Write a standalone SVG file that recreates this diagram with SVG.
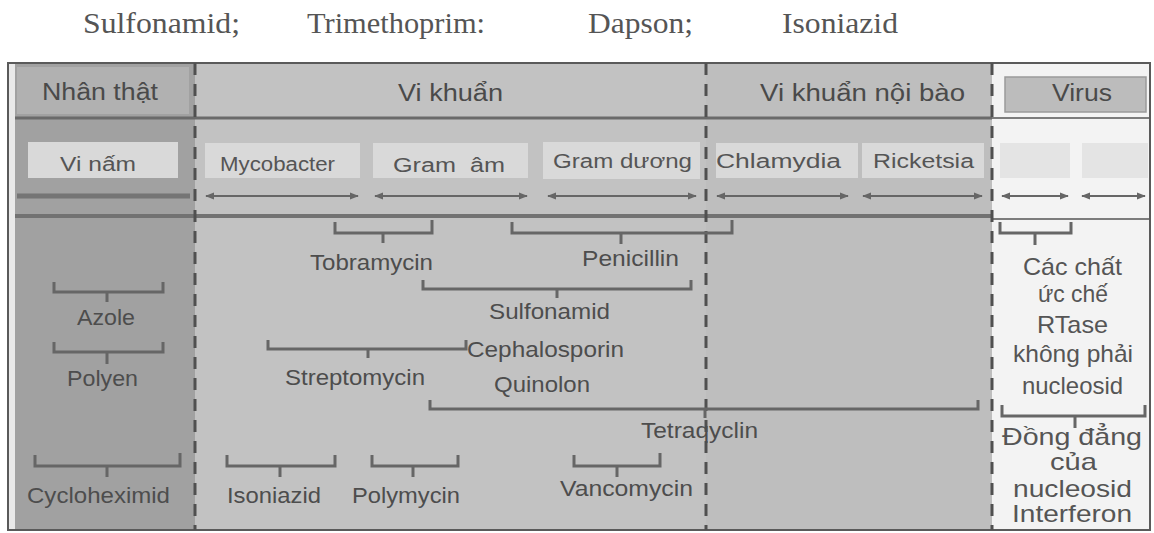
<svg xmlns="http://www.w3.org/2000/svg" width="1154" height="533" viewBox="0 0 1154 533">
<defs>
<marker id="ah" viewBox="0 0 10 10" refX="9" refY="5" markerWidth="9" markerHeight="9" markerUnits="userSpaceOnUse" orient="auto-start-reverse">
<path d="M0,1 L10,5 L0,9 Z" fill="#666"/>
</marker>
<style>
.serif{font-family:"Liberation Serif","Times New Roman",serif;font-size:29px;fill:#555;}
.hd{font-family:"Liberation Sans",Arial,sans-serif;font-size:23px;fill:#4a4a4a;}
.bx{font-family:"Liberation Sans",Arial,sans-serif;font-size:20px;fill:#555;}
.lb{font-family:"Liberation Sans",Arial,sans-serif;font-size:22px;fill:#4d4d4d;}
.vr{font-family:"Liberation Sans",Arial,sans-serif;font-size:24px;fill:#555;}
.box{fill:#d9d9d9;}
.vbox{fill:#e4e4e4;}
.br{fill:none;stroke:#666;stroke-width:3;}
.ar{stroke:#666;stroke-width:2;fill:none;marker-start:url(#ah);marker-end:url(#ah);}
.dash{stroke:#505050;stroke-width:3;stroke-dasharray:12 9;fill:none;}
</style>
</defs>
<rect width="1154" height="533" fill="#ffffff"/>

<g id="caption">
<text class="serif" x="83" y="33" textLength="157" lengthAdjust="spacingAndGlyphs">Sulfonamid;</text>
<text class="serif" x="307" y="33" textLength="178" lengthAdjust="spacingAndGlyphs">Trimethoprim:</text>
<text class="serif" x="588" y="33" textLength="105" lengthAdjust="spacingAndGlyphs">Dapson;</text>
<text class="serif" x="782" y="33" textLength="116" lengthAdjust="spacingAndGlyphs">Isoniazid</text>
</g>

<g id="backgrounds">
<rect x="8" y="63" width="1142" height="467" fill="#e9e9e9"/>
<rect x="15" y="64" width="180" height="465" fill="#a1a1a1"/>
<rect x="195" y="64" width="511" height="465" fill="#c2c2c2"/>
<rect x="706" y="64" width="286" height="465" fill="#bebebe"/>
<rect x="992" y="64" width="158" height="465" fill="#f3f3f3"/>
</g>

<g id="col-nhan-that">
<rect x="17" y="67" width="172" height="47" fill="#b1b1b1"/>
<text class="hd" x="42" y="100" textLength="116" lengthAdjust="spacingAndGlyphs">Nhân thật</text>
</g>
<g id="col-vi-khuan">
<text class="hd" x="398" y="101" textLength="105" lengthAdjust="spacingAndGlyphs">Vi khuẩn</text>
</g>
<g id="col-noi-bao">
<text class="hd" x="760" y="101" textLength="205" lengthAdjust="spacingAndGlyphs">Vi khuẩn nội bào</text>
</g>
<g id="col-virus">
<rect x="1005" y="77" width="141" height="35" fill="#bcbcbc" stroke="#9a9a9a" stroke-width="1.5"/>
<text class="hd" x="1052" y="101" textLength="60" lengthAdjust="spacingAndGlyphs">Virus</text>
</g>

<g id="grid">
<line x1="15" y1="118" x2="992" y2="118" stroke="#6a6a6a" stroke-width="3"/>
<line x1="992" y1="118" x2="1150" y2="118" stroke="#555" stroke-width="1.5"/>
<line x1="15" y1="216" x2="992" y2="216" stroke="#727272" stroke-width="4"/>
<line x1="992" y1="219" x2="1150" y2="219" stroke="#555" stroke-width="1.5"/>
<rect x="8" y="63" width="1142" height="467" fill="none" stroke="#5a5a5a" stroke-width="2"/>
<line class="dash" x1="195" y1="63" x2="195" y2="530"/>
<line class="dash" x1="706" y1="63" x2="706" y2="530"/>
<line class="dash" x1="992" y1="63" x2="992" y2="530"/>
</g>

<g id="vi-nam"><rect class="box" x="28" y="142" width="150" height="36"/><text class="bx" x="60" y="171" textLength="76" lengthAdjust="spacingAndGlyphs">Vi nấm</text></g>
<g id="mycobacter"><rect class="box" x="205" y="143" width="155" height="35"/><text class="bx" x="220" y="171" textLength="115" lengthAdjust="spacingAndGlyphs">Mycobacter</text></g>
<g id="gram-am"><rect class="box" x="373" y="143" width="155" height="35"/><text class="bx" x="393" y="172" textLength="112" lengthAdjust="spacingAndGlyphs" xml:space="preserve">Gram  âm</text></g>
<g id="gram-duong"><rect class="box" x="543" y="142" width="157" height="37"/><text class="bx" x="553" y="168" textLength="139" lengthAdjust="spacingAndGlyphs">Gram dương</text></g>
<g id="chlamydia"><rect class="box" x="716" y="143" width="142" height="35"/><text class="bx" x="716" y="168" textLength="125" lengthAdjust="spacingAndGlyphs">Chlamydia</text></g>
<g id="ricketsia"><rect class="box" x="862" y="143" width="122" height="35"/><text class="bx" x="873" y="168" textLength="101" lengthAdjust="spacingAndGlyphs">Ricketsia</text></g>
<g id="virus-a"><rect class="vbox" x="1000" y="143" width="70" height="35"/></g>
<g id="virus-b"><rect class="vbox" x="1082" y="143" width="66" height="35"/></g>

<g id="connectors">
<line x1="17" y1="196" x2="190" y2="196" stroke="#757575" stroke-width="5"/>
<line class="ar" x1="206" y1="196" x2="358" y2="196"/>
<line class="ar" x1="375" y1="196" x2="527" y2="196"/>
<line class="ar" x1="548" y1="196" x2="696" y2="196"/>
<line class="ar" x1="717" y1="196" x2="848" y2="196"/>
<line class="ar" x1="863" y1="196" x2="982" y2="196"/>
<line class="ar" x1="1002" y1="196" x2="1068" y2="196"/>
<line class="ar" x1="1082" y1="196" x2="1145" y2="196"/>

<path class="br" d="M335,222 V233 H432 V220 M383,233 V243"/>
<path class="br" d="M512,222 V233 H732 V220 M621,233 V244"/>
<path class="br" d="M423,280 V289 H691 V280 M557,289 V298"/>
<path class="br" d="M268,340 V349 H466 V340 M368,349 V358"/>
<path class="br" d="M430,400 V409 H978 V400 M705,409 V418"/>
<path class="br" d="M574,455 V466 H660 V453 M617,466 V477"/>
<path class="br" d="M372,455 V466 H458 V455 M413,466 V477"/>
<path class="br" d="M227,455 V466 H335 V455 M280,466 V477"/>
<path class="br" d="M35,455 V466 H180 V453 M107,466 V477"/>
<path class="br" d="M54,282 V292 H163 V282 M107,292 V302"/>
<path class="br" d="M54,342 V352 H163 V342 M107,352 V364"/>
<path class="br" d="M1000,222 V233 H1071 V222 M1035,233 V245"/>
<path class="br" d="M1002,405 V416 H1145 V405 M1075,416 V428"/>
</g>

<g id="drugs">
<text class="lb" x="310" y="270" textLength="123" lengthAdjust="spacingAndGlyphs">Tobramycin</text>
<text class="lb" x="582" y="266" textLength="97" lengthAdjust="spacingAndGlyphs">Penicillin</text>
<text class="lb" x="489" y="319" textLength="121" lengthAdjust="spacingAndGlyphs">Sulfonamid</text>
<text class="lb" x="467" y="357" textLength="157" lengthAdjust="spacingAndGlyphs">Cephalosporin</text>
<text class="lb" x="285" y="385" textLength="140" lengthAdjust="spacingAndGlyphs">Streptomycin</text>
<text class="lb" x="494" y="392" textLength="96" lengthAdjust="spacingAndGlyphs">Quinolon</text>
<text class="lb" x="641" y="438" textLength="117" lengthAdjust="spacingAndGlyphs">Tetraqyclin</text>
<text class="lb" x="560" y="496" textLength="133" lengthAdjust="spacingAndGlyphs">Vancomycin</text>
<text class="lb" x="352" y="503" textLength="108" lengthAdjust="spacingAndGlyphs">Polymycin</text>
<text class="lb" x="227" y="503" textLength="94" lengthAdjust="spacingAndGlyphs">Isoniazid</text>
<text class="lb" x="27" y="503" textLength="143" lengthAdjust="spacingAndGlyphs">Cycloheximid</text>
<text class="lb" x="77" y="325" textLength="58" lengthAdjust="spacingAndGlyphs">Azole</text>
<text class="lb" x="67" y="386" textLength="71" lengthAdjust="spacingAndGlyphs">Polyen</text>
</g>

<g id="virus-drugs">
<text class="vr" x="1023" y="275" textLength="99" lengthAdjust="spacingAndGlyphs">Các chất</text>
<text class="vr" x="1038" y="302" textLength="70" lengthAdjust="spacingAndGlyphs">ức chế</text>
<text class="vr" x="1037" y="333" textLength="71" lengthAdjust="spacingAndGlyphs">RTase</text>
<text class="vr" x="1013" y="362" textLength="120" lengthAdjust="spacingAndGlyphs">không phải</text>
<text class="vr" x="1022" y="394" textLength="101" lengthAdjust="spacingAndGlyphs">nucleosid</text>
<text class="vr" x="1002" y="445" textLength="140" lengthAdjust="spacingAndGlyphs">Đồng đẳng</text>
<text class="vr" x="1050" y="470" textLength="47" lengthAdjust="spacingAndGlyphs">của</text>
<text class="vr" x="1013" y="497" textLength="119" lengthAdjust="spacingAndGlyphs">nucleosid</text>
<text class="vr" x="1012" y="522" textLength="120" lengthAdjust="spacingAndGlyphs">Interferon</text>
</g>
</svg>
